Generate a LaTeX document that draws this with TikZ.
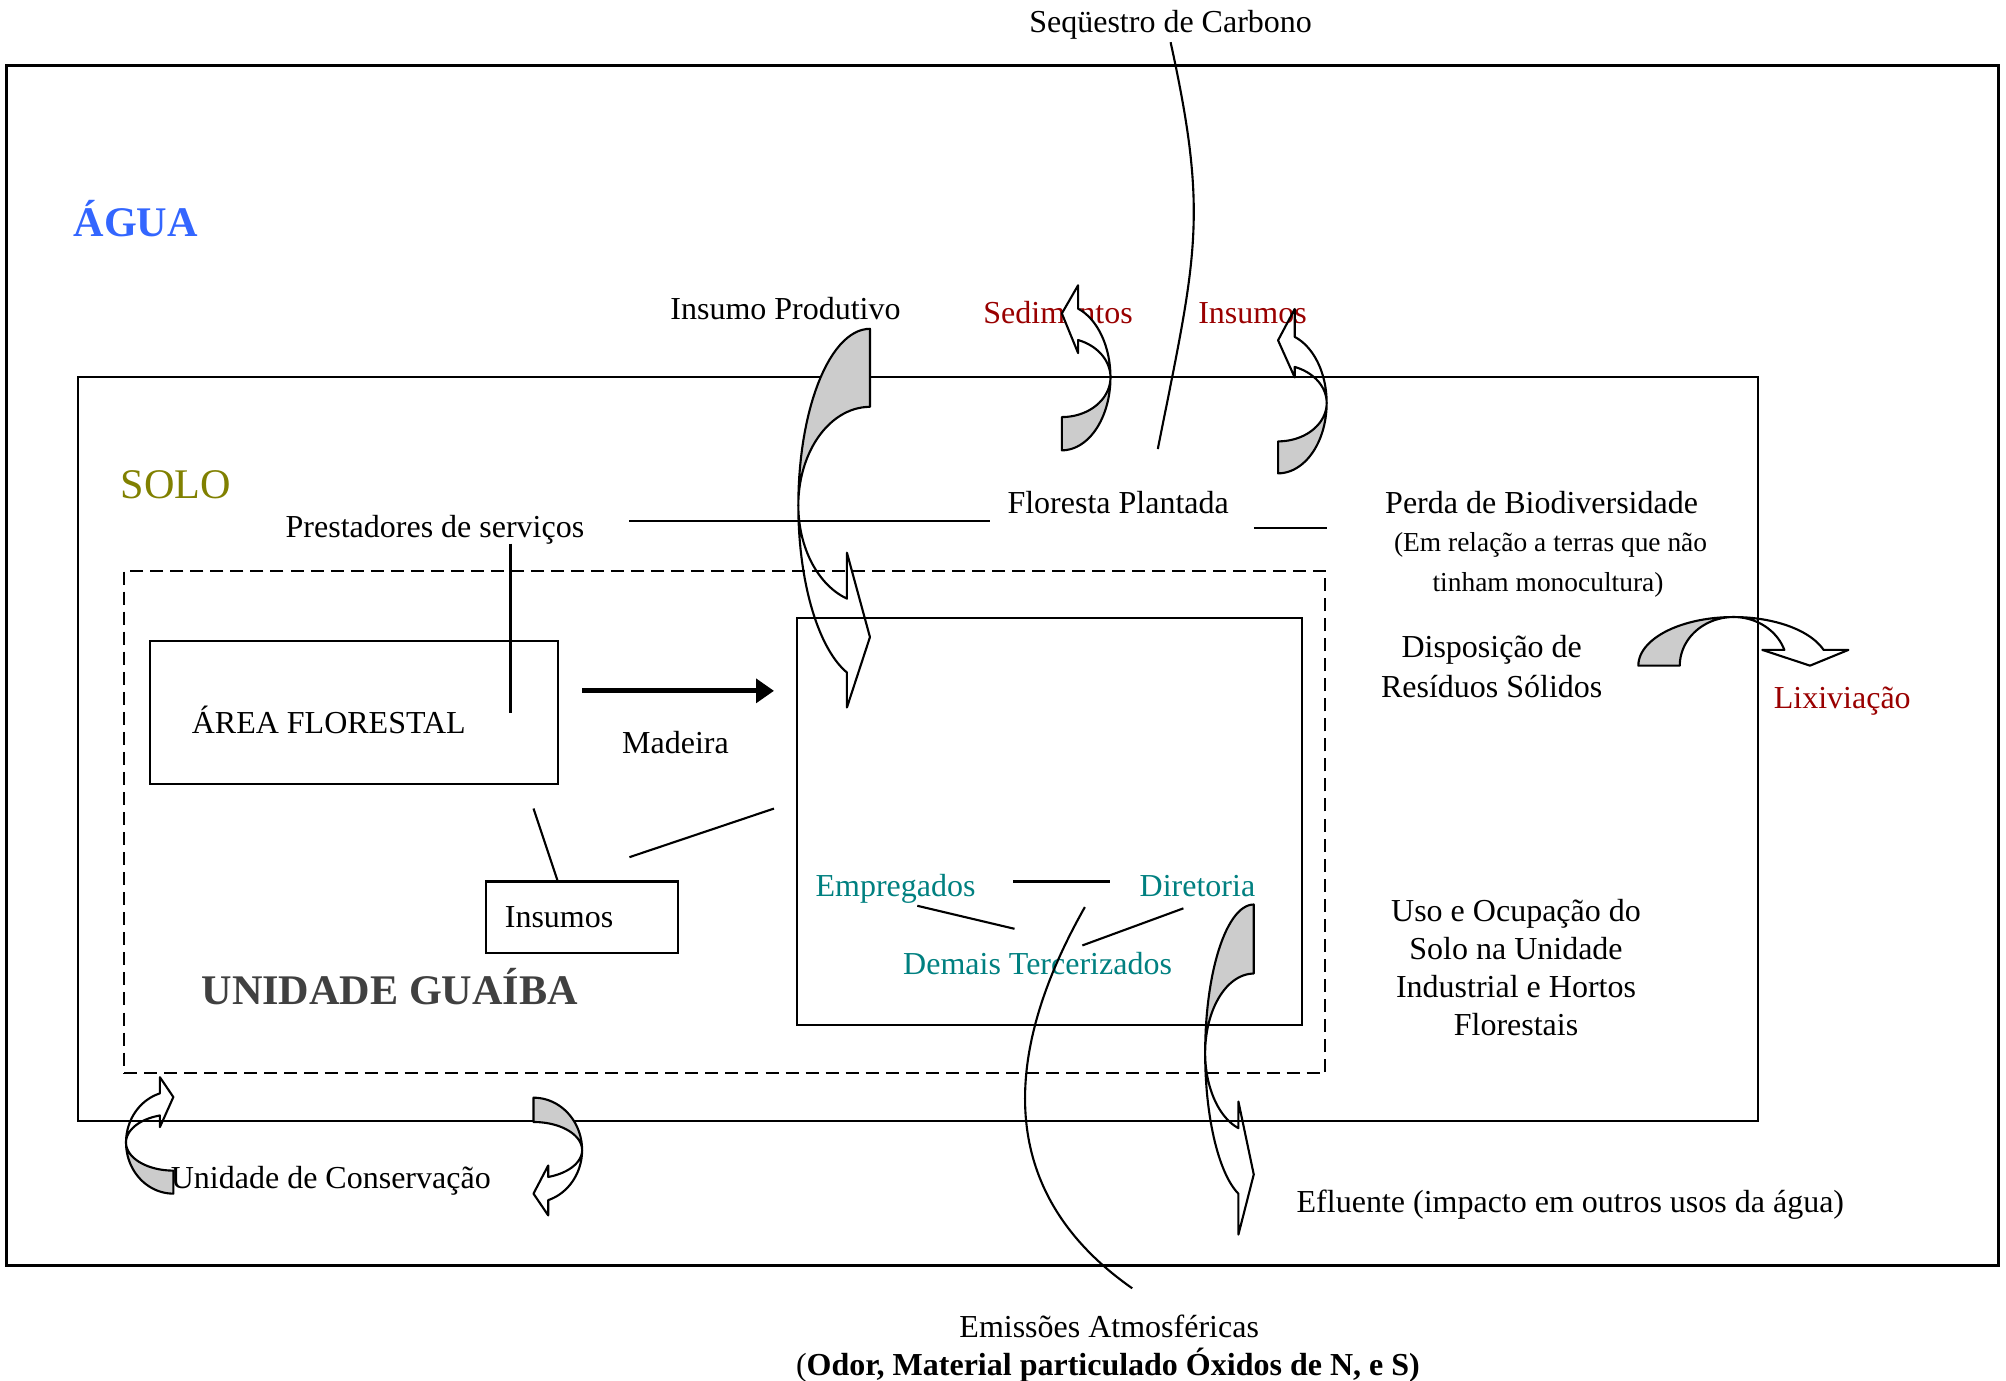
\documentclass[tikz,border=0pt]{standalone}
\usepackage{fontspec}
\setmainfont{Liberation Serif}
\usetikzlibrary{arrows.meta,fit}

\definecolor{aguablue}{RGB}{51,102,255}
\definecolor{soloolive}{RGB}{128,128,0}
\definecolor{impred}{RGB}{153,0,0}
\definecolor{staffteal}{RGB}{0,128,128}
\definecolor{unitgray}{RGB}{64,64,64}
\definecolor{backgray}{RGB}{204,204,204}

% Twisted band arrow (Word style "curved right arrow"), local frame:
% tail on the vertical line x=0 at the top, band bulging to the left,
% head at the bottom pointing right.
% #1 horizontal radius, #2 outer vertical radius, #3 inner vertical radius,
% #4 distance of the head base left of x=0, #5 inner barb y, #6 outer barb y,
% #7 tip y, #8 fill of the front face
\newcommand{\twistarrow}[8]{%
  \pgfmathsetmacro\twEnd{180-asin(#4/#1)}%
  \draw[bandline, fill=backgray]
    plot[variable=\tw, domain=0:90, samples=30] ({-#1*sin(\tw)},{-#2*cos(\tw)})
    -- plot[variable=\tw, domain=90:0, samples=30] ({-#1*sin(\tw)},{-#3*cos(\tw)})
    -- cycle;
  \draw[bandline, fill=#8]
    plot[variable=\tw, domain=90:\twEnd, samples=30] ({-#1*sin(\tw)},{-#2*cos(\tw)})
    -- (-#4,#6) -- (0,#7) -- (-#4,#5)
    -- plot[variable=\tw, domain=\twEnd:90, samples=30] ({-#1*sin(\tw)},{-#3*cos(\tw)})
    -- cycle;
}

\tikzset{
  lbl/.style={inner sep=0pt, font=\fontsize{9.1}{11}\selectfont,
    text height=6.6pt, text depth=0pt},
  blk/.style={inner sep=0pt, align=center},
  small/.style={inner sep=0pt, font=\fontsize{7.8}{9}\selectfont,
    text height=5.8pt, text depth=0pt},
  big/.style={inner sep=0pt, anchor=west, text height=8.4pt, text depth=0pt},
  boxst/.style={draw, line width=0.6pt, inner sep=0pt},
  conn/.style={line width=0.6pt},
  bandline/.style={line width=0.6pt, line join=round},
}

\begin{document}
\begin{tikzpicture}[x=0.0127934cm, y=-0.0127934cm]
\useasboundingbox (0,0) rectangle (1568,1079);

% ---------- frames ----------
\node[boxst, line width=0.8pt, fit={(5,51) (1562,989)}] (agua) {};
\node[boxst, fit={(61,295) (1374,876)}] (solo) {};
\node[boxst, dash pattern=on 3.7pt off 2pt, fit={(97,446) (1036,839)}] (guaiba) {};
\node[boxst, fit={(117,501) (436,613)}] (area) {};
\node[boxst, fit={(380,689) (530,745)}] (insbox) {};
\node[boxst, fit={(623,483) (1018,801)}] (fabrica) {};

% ---------- labels ----------
\node[lbl] (seq) at (915,16) {Seqüestro de Carbono};
\node[big, text=aguablue, font=\fontsize{12}{14}\selectfont\bfseries] (aguatxt) at (57,173) {ÁGUA};
\node[big, text=soloolive, font=\fontsize{12}{14}\selectfont] (solotxt) at (94,378) {SOLO};
\node[lbl] (prest) at (340,411) {Prestadores de serviços};
\node[lbl] (flor) at (874,392) {Floresta Plantada};
\node[lbl] (insprod) at (614,241) {Insumo Produtivo};
\node[lbl, text=impred] (sed) at (827,244) {Sedimentos};
\node[lbl, text=impred] (insred) at (979,244) {Insumos};
\node[lbl] (perda) at (1205,392) {Perda de Biodiversidade};
\node[small] (rel1) at (1212,423) {(Em relação a terras que não};
\node[small] (rel2) at (1210,454) {tinham monocultura)};
\node[blk, font=\fontsize{9.1}{11.6}\selectfont] (resid) at (1166,521) {Disposição de\\Resíduos Sólidos};
\node[lbl, text=impred] (lix) at (1440,545) {Lixiviação};
\node[lbl] (areatxt) at (257,564) {ÁREA FLORESTAL};
\node[lbl] (mad) at (528,580) {Madeira};
\node[lbl] (instxt) at (437,716) {Insumos};
\node[big, text=unitgray, font=\fontsize{12}{14}\selectfont\bfseries] (ugtxt) at (157,774) {UNIDADE GUAÍBA};
\node[lbl, text=staffteal] (emp) at (700,692) {Empregados};
\node[lbl, text=staffteal] (dir) at (936,692) {Diretoria};
\node[lbl, text=staffteal] (dem) at (811,753) {Demais Tercerizados};
\node[blk, font=\fontsize{9.1}{10.8}\selectfont] (uso) at (1185,756) {Uso e Ocupação do\\Solo na Unidade\\Industrial e Hortos\\Florestais};
\node[lbl, anchor=west] (efl) at (1013,939) {Efluente (impacto em outros usos da água)};
\node[lbl, anchor=west] (uc) at (133,920) {Unidade de Conservação};
\node[lbl] (emi1) at (867,1036) {Emissões Atmosféricas};
\node[lbl] (emi2) at (866,1066) {(\textbf{Odor, Material particulado Óxidos de N, e S)}};

% ---------- connector end points ----------
\coordinate (pl) at (492,407);  \coordinate (pr) at (774,407);
\coordinate (pv1) at (399,425); \coordinate (pv2) at (399,557);
\coordinate (fl) at (980,413);  \coordinate (fr) at (1037,413);
\coordinate (ma) at (455,540);  \coordinate (mb) at (605,540);
\coordinate (ia) at (417,632);  \coordinate (ib) at (436,689);
\coordinate (ic) at (492,670);  \coordinate (id) at (605,632);
\coordinate (e1) at (792,689);  \coordinate (e2) at (868,689);
\coordinate (e3) at (717,708);  \coordinate (e4) at (793,726);
\coordinate (e5) at (846,739);  \coordinate (e6) at (925,710);
\coordinate (sq1) at (915,33);  \coordinate (sq2) at (905,351);
\coordinate (em1) at (848,709); \coordinate (em2) at (885,1007);

% ---------- connectors ----------
\draw[conn] (pl) -- (pr);
\draw[conn] (pv1) -- (pv2);
\draw[conn] (fl) -- (fr);
\draw[line width=1.5pt, -{Triangle[length=5.1pt, width=6.7pt]}] (ma) -- (mb);
\draw[conn] (ia) -- (ib);
\draw[conn] (ic) -- (id);
\draw[conn] (e1) -- (e2);
\draw[conn] (e3) -- (e4);
\draw[conn] (e5) -- (e6);
\draw[conn] (sq1) .. controls (945,170) and (935,200) .. (sq2);
\draw[conn] (em1) .. controls (785,820) and (775,930) .. (em2);

% ---------- band arrows ----------
% Insumo Produtivo
\begin{scope}[shift={(680,395)}]
  \twistarrow{56}{138}{77}{18}{37}{158}{103}{none}
\end{scope}
% Efluente
\begin{scope}[shift={(980,823)}]
  \twistarrow{38}{116}{62}{12}{38}{142}{95}{none}
\end{scope}
% Sedimentos
\begin{scope}[shift={(830,295)}, rotate=180]
  \twistarrow{38}{57}{31}{12.7}{19}{72}{50}{white}
\end{scope}
% Insumos (exported)
\begin{scope}[shift={(999,315)}, rotate=180]
  \twistarrow{38}{55}{30}{13}{20}{73.5}{49}{none}
\end{scope}
% Lixiviacao
\begin{scope}[shift={(1355,520.3)}]
  \begin{scope}[cm={0,-1,-1,0,(0,0)}]
    \twistarrow{38}{74.4}{42}{12.3}{22.5}{89.8}{59.8}{none}
  \end{scope}
\end{scope}
% Unidade de Conservacao, right
\begin{scope}[shift={(417,899)}, xscale=-1]
  \twistarrow{38}{41}{22}{11.5}{12}{51}{34}{none}
\end{scope}
% Unidade de Conservacao, left
\begin{scope}[shift={(135.5,893)}, yscale=-1]
  \twistarrow{37}{40}{22}{10.5}{12}{51}{35.5}{none}
\end{scope}

\end{tikzpicture}
\end{document}
